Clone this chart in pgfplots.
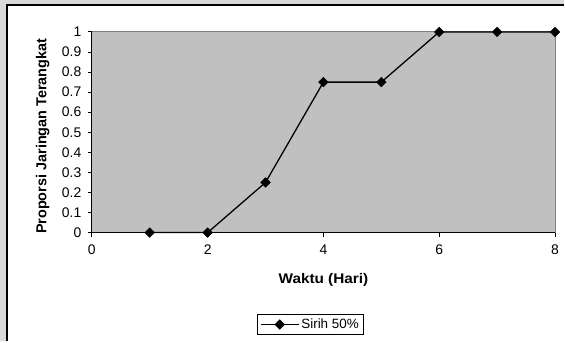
\documentclass[border=0pt]{standalone}
\usepackage{fontspec}
\setmainfont{Liberation Sans}
\usepackage{pgfplots}
\pgfplotsset{compat=1.18}
\definecolor{plotgray}{HTML}{C0C0C0}
\definecolor{outgray}{HTML}{D9D9D9}
\begin{document}
\begin{tikzpicture}[x=1bp,y=1bp]
\fill[outgray] (0,0) rectangle (565,342);
\fill[white] (7.5,0) rectangle (565,336.5);
\draw[black,line width=2bp] (7.5,0) -- (7.5,336.5) -- (565,336.5);
\begin{axis}[
  at={(92bp,109bp)}, anchor=south west,
  scale only axis, width=464bp, height=201bp,
  xmin=0, xmax=8, ymin=0, ymax=1,
  axis background/.style={fill=plotgray, draw=gray, line width=1bp},
  axis x line*=bottom, axis y line*=left,
  axis line style={black, line width=1.3bp, -},
  xtick={0,2,4,6,8},
  ytick={0,0.1,0.2,0.3,0.4,0.5,0.6,0.7,0.8,0.9,1},
  tick align=outside, major tick length=4bp,
  tick style={black, line width=1bp},
  /pgf/number format/assume math mode=true,
  ticklabel style={font=\fontsize{14}{16}\selectfont},
  xticklabel style={yshift=-5bp},
  yticklabel style={xshift=-3bp},
  xlabel={Waktu (Hari)},
  ylabel={Proporsi Jaringan Terangkat},
  xlabel style={font=\bfseries\fontsize{14}{16}\selectfont, xscale=1.1, at={(axis description cs:0.5,-0.234)}, anchor=center},
  ylabel style={font=\bfseries\fontsize{14.5}{16}\selectfont, at={(axis description cs:-0.106,0.48)}, anchor=center, rotate=0},
  legend style={at={(0.472,-0.458)}, anchor=center, draw=black, line width=1bp,
    font=\fontsize{13.5}{15}\selectfont, inner xsep=3bp, inner ysep=2bp},
  legend image code/.code={\draw[mark repeat=2,mark phase=2] plot coordinates {(0bp,0bp) (19bp,0bp) (38bp,0bp)};},
  clip=false,
]
\addplot[black, line width=1.3bp, mark=square*, mark size=3.4bp, mark options={rotate=45, solid, line width=0.5bp}]
  coordinates {(1,0) (2,0) (3,0.25) (4,0.75) (5,0.75) (6,1) (7,1) (8,1)};
\addlegendentry{Sirih 50\%}
\end{axis}
\end{tikzpicture}
\end{document}
